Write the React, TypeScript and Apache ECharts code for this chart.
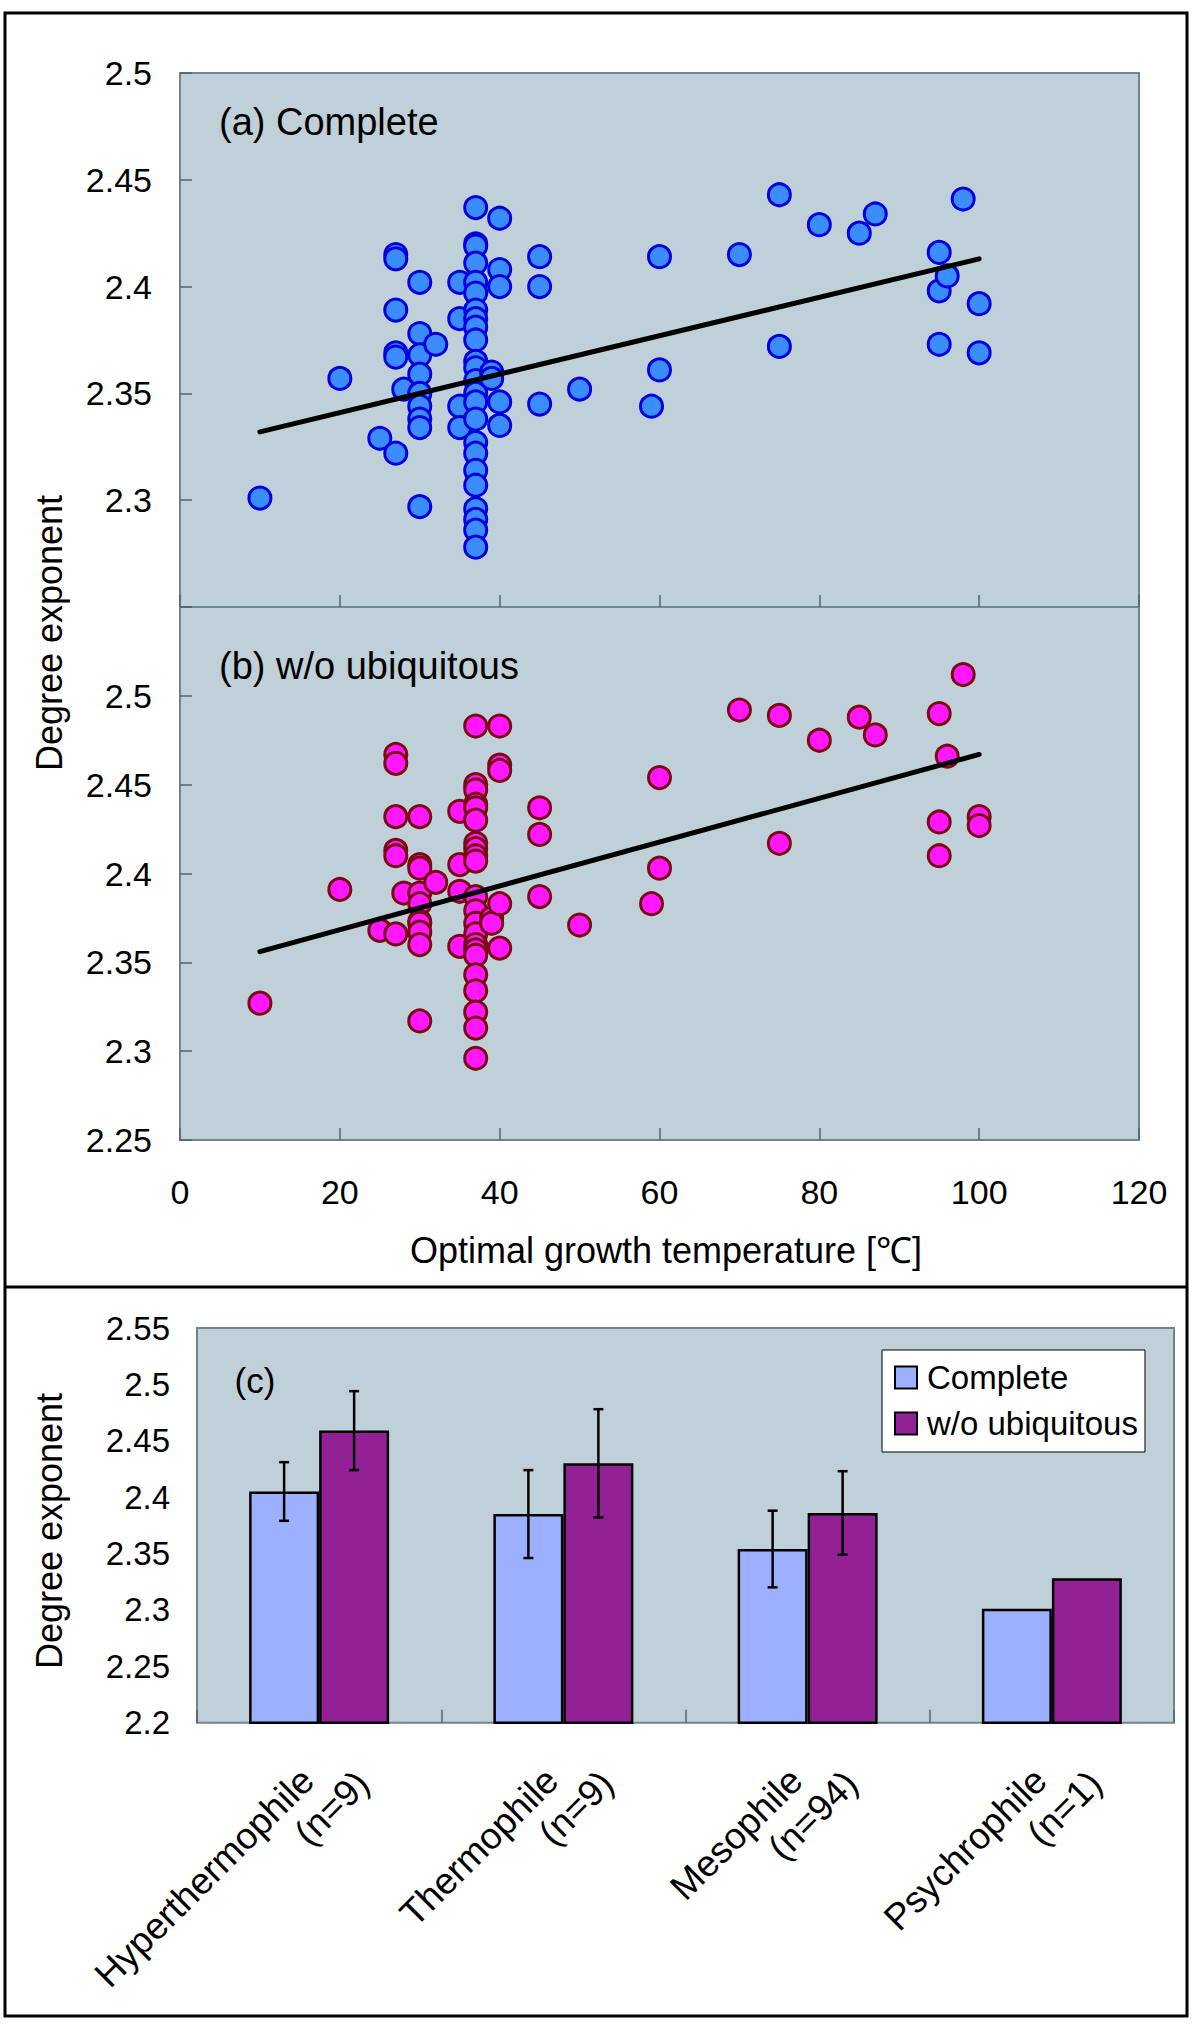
import React, { useEffect, useRef } from "react";
import * as echarts from "echarts";

// ---------- Panel (a): complete networks ----------
const tempsA = [
  10, 20, 25,
  27, 27, 27, 27, 27, 27,
  28,
  30, 30, 30, 30, 30, 30, 30, 30, 30,
  32,
  35, 35, 35, 35,
  37, 37, 37, 37, 37, 37, 37, 37, 37, 37, 37, 37, 37, 37, 37, 37, 37, 37, 37, 37, 37, 37, 37, 37,
  39, 39,
  40, 40, 40, 40, 40,
  45, 45, 45,
  50, 59, 60, 60, 70, 75, 75, 80, 85, 87,
  95, 95, 95, 96, 98, 100, 100,
];
const expA = [
  2.301, 2.357, 2.329,
  2.415, 2.413, 2.389, 2.369, 2.367, 2.322,
  2.352,
  2.402, 2.378, 2.368, 2.359, 2.35, 2.344, 2.338, 2.334, 2.297,
  2.373,
  2.402, 2.385, 2.344, 2.334,
  2.437, 2.42, 2.419, 2.411, 2.402, 2.397, 2.389, 2.385, 2.381, 2.375, 2.365, 2.362, 2.356, 2.35, 2.346, 2.338, 2.327, 2.322, 2.314, 2.307, 2.296, 2.291, 2.286, 2.278,
  2.36, 2.357,
  2.432, 2.408, 2.4, 2.346, 2.335,
  2.414, 2.4, 2.345,
  2.352, 2.344, 2.414, 2.361, 2.415, 2.443, 2.372, 2.429, 2.425, 2.434,
  2.416, 2.398, 2.373, 2.405, 2.441, 2.392, 2.369,
];
const trendTempsA = [10, 100];
const trendExpA = [2.332, 2.413];

// ---------- Panel (b): without ubiquitous ----------
const tempsB = [
  10, 20, 25,
  27, 27, 27, 27, 27, 27,
  28,
  30, 30, 30, 30, 30, 30, 30, 30, 30, 30,
  32,
  35, 35, 35, 35,
  37, 37, 37, 37, 37, 37, 37, 37, 37, 37, 37, 37, 37, 37, 37, 37, 37, 37, 37, 37, 37, 37,
  39, 39,
  40, 40, 40, 40, 40,
  45, 45, 45,
  50, 59, 60, 60, 70, 75, 75, 80, 85, 87,
  95, 95, 95, 96, 98, 100, 100,
];
const expB = [
  2.327, 2.391, 2.368,
  2.467, 2.462, 2.432, 2.413, 2.41, 2.366,
  2.389,
  2.432, 2.405, 2.403, 2.389, 2.383, 2.373, 2.372, 2.367, 2.36, 2.317,
  2.395,
  2.435, 2.405, 2.39, 2.359,
  2.483, 2.45, 2.447, 2.439, 2.437, 2.43, 2.417, 2.414, 2.41, 2.407, 2.387, 2.379, 2.372, 2.366, 2.36, 2.357, 2.354, 2.343, 2.334, 2.322, 2.313, 2.296,
  2.375, 2.372,
  2.483, 2.461, 2.458, 2.383, 2.358,
  2.437, 2.422, 2.387,
  2.371, 2.383, 2.454, 2.403, 2.492, 2.489, 2.417, 2.475, 2.488, 2.478,
  2.49, 2.429, 2.41, 2.466, 2.512, 2.432, 2.427,
];
const trendTempsB = [10, 100];
const trendExpB = [2.356, 2.467];

// ---------- Panel (c): group means ----------
const groups = ["Hyperthermophile", "Thermophile", "Mesophile", "Psychrophile"];
const groupN = ["(n=9)", "(n=9)", "(n=94)", "(n=1)"];
const meanComplete = [2.405, 2.385, 2.354, 2.301];
const errComplete = [0.026, 0.039, 0.034, 0];
const meanWo = [2.459, 2.43, 2.386, 2.328];
const errWo = [0.035, 0.048, 0.037, 0];

const FONT = "'Liberation Sans', Arial, Helvetica, sans-serif";
const PLOT_BG = "#c0d0d8";
const PLOT_BORDER = "#70858c";
const BAR_W = 70;

const fmt = (v: number) => String(Math.round(v * 100) / 100);

export default function App() {
  const ref = useRef<HTMLDivElement>(null);

  useEffect(() => {
    if (!ref.current) return;
    const chart = echarts.init(ref.current, undefined, { renderer: "svg" });

    const tickStyle = { color: "#50666e", width: 1.5 };
    const yLabel = (hide: number) => ({
      fontSize: 34,
      fontFamily: FONT,
      color: "#000",
      margin: 28,
      formatter: (v: number) => (Math.abs(v - hide) < 1e-6 ? "" : fmt(v)),
    });

    const errSeries = (means: number[], errs: number[], sign: number) => ({
      type: "custom",
      xAxisIndex: 2,
      yAxisIndex: 2,
      z: 6,
      silent: true,
      data: means.map((m, i) => [i, m, errs[i]]),
      renderItem: (params: any, api: any) => {
        const i = api.value(0);
        const m = api.value(1);
        const e = api.value(2);
        if (!e) return { type: "group", children: [] };
        const hi = api.coord([i, m + e]);
        const lo = api.coord([i, m - e]);
        const x = hi[0] + (sign * BAR_W) / 2;
        const cap = 5;
        const st = { stroke: "#000", lineWidth: 2.5 };
        return {
          type: "group",
          children: [
            { type: "line", shape: { x1: x, y1: hi[1], x2: x, y2: lo[1] }, style: st },
            { type: "line", shape: { x1: x - cap, y1: hi[1], x2: x + cap, y2: hi[1] }, style: st },
            { type: "line", shape: { x1: x - cap, y1: lo[1], x2: x + cap, y2: lo[1] }, style: st },
          ],
        };
      },
    });

    const option: any = {
      animation: false,
      backgroundColor: "#fff",
      textStyle: { fontFamily: FONT },
      grid: [
        { left: 180, top: 73, width: 959, height: 534, show: true, backgroundColor: PLOT_BG, borderColor: PLOT_BORDER, borderWidth: 2 },
        { left: 180, top: 607, width: 959, height: 533, show: true, backgroundColor: PLOT_BG, borderColor: PLOT_BORDER, borderWidth: 2 },
        { left: 197, top: 1328, width: 977, height: 406, show: true, backgroundColor: PLOT_BG, borderColor: PLOT_BORDER, borderWidth: 2 },
      ],
      xAxis: [
        {
          gridIndex: 0, type: "value", min: 0, max: 120, interval: 20,
          axisLine: { show: false },
          axisTick: { show: true, inside: true, length: 12, lineStyle: tickStyle },
          axisLabel: { show: false },
          splitLine: { show: false },
        },
        {
          gridIndex: 1, type: "value", min: 0, max: 120, interval: 20,
          axisLine: { show: false },
          axisTick: { show: true, inside: true, length: 12, lineStyle: tickStyle },
          axisLabel: { fontSize: 34, fontFamily: FONT, color: "#000", margin: 35 },
          splitLine: { show: false },
        },
        {
          gridIndex: 2, type: "category", data: groups,
          axisLine: { show: false },
          axisTick: { show: true, inside: true, length: 13, lineStyle: tickStyle },
          axisLabel: {
            interval: 0,
            rotate: 45,
            align: "right",
            verticalAlign: "top",
            margin: 11,
            formatter: (val: string, idx: number) => `{a|${val}}\n{b|${groupN[idx]}}`,
            rich: {
              a: { fontSize: 37, fontFamily: FONT, color: "#000", lineHeight: 41, padding: [0, 37, 0, 0] },
              b: { fontSize: 37, fontFamily: FONT, color: "#000", lineHeight: 41 },
            },
          },
          splitLine: { show: false },
        },
      ],
      yAxis: [
        {
          gridIndex: 0, type: "value", min: 2.25, max: 2.5, interval: 0.05,
          axisLine: { show: false },
          axisTick: { show: true, inside: true, length: 12, lineStyle: tickStyle },
          axisLabel: yLabel(2.25),
          splitLine: { show: false },
        },
        {
          gridIndex: 1, type: "value", min: 2.25, max: 2.55, interval: 0.05,
          axisLine: { show: false },
          axisTick: { show: true, inside: true, length: 12, lineStyle: tickStyle },
          axisLabel: yLabel(2.55),
          splitLine: { show: false },
        },
        {
          gridIndex: 2, type: "value", min: 2.2, max: 2.55, interval: 0.05,
          axisLine: { show: false },
          axisTick: { show: false },
          axisLabel: { fontSize: 33, fontFamily: FONT, color: "#000", margin: 27, formatter: (v: number) => fmt(v) },
          splitLine: { show: false },
        },
      ],
      legend: {
        data: ["Complete", "w/o ubiquitous"],
        orient: "vertical",
        left: 882,
        top: 1350,
        icon: "rect",
        itemWidth: 22,
        itemHeight: 22,
        itemGap: 13,
        padding: [11, 7, 12, 12],
        backgroundColor: "#fff",
        borderColor: "#000",
        borderWidth: 1,
        borderRadius: 0,
        textStyle: { fontSize: 33, fontFamily: FONT, color: "#000", padding: [0, 0, 0, 5] },
      },
      series: [
        {
          name: "complete-points", type: "scatter", xAxisIndex: 0, yAxisIndex: 0, z: 2,
          symbolSize: 22,
          itemStyle: { color: "#3a8cff", borderColor: "#0000dd", borderWidth: 3, opacity: 1 },
          data: tempsA.map((t, i) => [t, expA[i]]),
        },
        {
          name: "complete-trend", type: "line", xAxisIndex: 0, yAxisIndex: 0, z: 4,
          symbol: "none", lineStyle: { color: "#000", width: 5, cap: "round" },
          data: trendTempsA.map((t, i) => [t, trendExpA[i]]),
        },
        {
          name: "wo-points", type: "scatter", xAxisIndex: 1, yAxisIndex: 1, z: 2,
          symbolSize: 22,
          itemStyle: { color: "#ff18ff", borderColor: "#7a0a12", borderWidth: 3, opacity: 1 },
          data: tempsB.map((t, i) => [t, expB[i]]),
        },
        {
          name: "wo-trend", type: "line", xAxisIndex: 1, yAxisIndex: 1, z: 4,
          symbol: "none", lineStyle: { color: "#000", width: 5, cap: "round" },
          data: trendTempsB.map((t, i) => [t, trendExpB[i]]),
        },
        {
          name: "Complete", type: "bar", xAxisIndex: 2, yAxisIndex: 2, z: 3,
          barWidth: BAR_W, barGap: "0%",
          itemStyle: { color: "#9db0ff", borderColor: "#000", borderWidth: 2.5 },
          data: meanComplete,
        },
        {
          name: "w/o ubiquitous", type: "bar", xAxisIndex: 2, yAxisIndex: 2, z: 3,
          barWidth: BAR_W, barGap: "0%",
          itemStyle: { color: "#922196", borderColor: "#000", borderWidth: 2.5 },
          data: meanWo,
        },
        errSeries(meanComplete, errComplete, -1),
        errSeries(meanWo, errWo, 1),
      ],
      graphic: [
        { type: "rect", z: 100, shape: { x: 5, y: 13, width: 1182, height: 2003 }, style: { fill: "none", stroke: "#000", lineWidth: 3 } },
        { type: "line", z: 100, shape: { x1: 5, y1: 1287, x2: 1187, y2: 1287 }, style: { stroke: "#000", lineWidth: 3 } },
        {
          type: "text", z: 100, x: 49, y: 633, rotation: Math.PI / 2,
          style: { text: "Degree exponent", fontSize: 36, fontFamily: FONT, fill: "#000", align: "center", verticalAlign: "middle" },
        },
        {
          type: "text", z: 100, x: 49, y: 1531, rotation: Math.PI / 2,
          style: { text: "Degree exponent", fontSize: 36, fontFamily: FONT, fill: "#000", align: "center", verticalAlign: "middle" },
        },
        {
          type: "text", z: 100, x: 219, y: 122,
          style: { text: "(a) Complete", fontSize: 38, fontFamily: FONT, fill: "#000", align: "left", verticalAlign: "middle" },
        },
        {
          type: "text", z: 100, x: 219, y: 666,
          style: { text: "(b) w/o ubiquitous", fontSize: 38, fontFamily: FONT, fill: "#000", align: "left", verticalAlign: "middle" },
        },
        {
          type: "text", z: 100, x: 666, y: 1250,
          style: { text: "Optimal growth temperature [℃]", fontSize: 36, fontFamily: FONT, fill: "#000", align: "center", verticalAlign: "middle" },
        },
        {
          type: "text", z: 100, x: 255, y: 1380,
          style: { text: "(c)", fontSize: 35, fontFamily: FONT, fill: "#000", align: "center", verticalAlign: "middle" },
        },
      ],
    };

    chart.setOption(option);
    return () => chart.dispose();
  }, []);

  return <div ref={ref} style={{ position: "absolute", left: 0, top: 0, width: 1200, height: 2025 }} />;
}
